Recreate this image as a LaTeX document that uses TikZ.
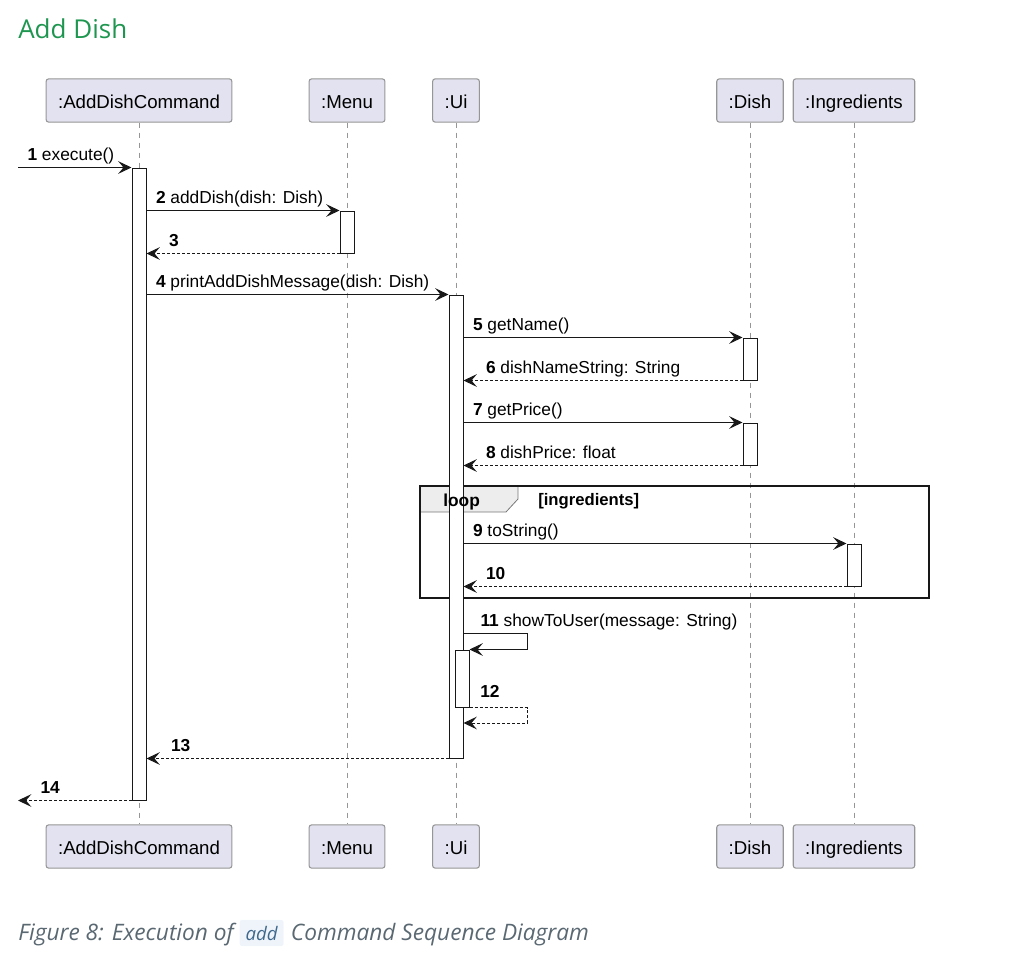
\documentclass[tikz,border=0pt]{standalone}
\usepackage{fontspec}
\setmainfont{Liberation Sans}
\newfontfamily\titlefont{Open Sans}
\usetikzlibrary{arrows.meta,fit}
\definecolor{partfill}{RGB}{226,226,240}
\definecolor{partline}{RGB}{150,150,150}
\definecolor{lineclr}{RGB}{24,24,24}
\definecolor{titlegreen}{RGB}{30,150,80}
\definecolor{capgray}{RGB}{90,104,114}
\definecolor{codeblue}{RGB}{62,104,140}
\definecolor{codebg}{RGB}{239,244,250}
\tikzset{
  part/.style={draw=partline, fill=partfill, rounded corners=2pt, line width=0.8pt,
    minimum height=32.5pt, inner xsep=9pt, text height=12.5pt, text depth=1pt,
    font=\fontsize{14}{16}\selectfont},
  life/.style={draw=partline, line width=0.75pt, dash pattern=on 3.75pt off 3.75pt},
  act/.style={draw=lineclr, fill=white, line width=0.75pt, inner sep=0pt},
  call/.style={draw=lineclr, line width=0.75pt, -{Stealth[length=10pt,width=9.5pt,inset=4pt]}},
  ret/.style={call, dash pattern=on 2.25pt off 1.5pt},
  lbl/.style={font=\fontsize{13}{15}\selectfont, inner sep=0pt, anchor=base west},
  calllbl/.style={lbl, pos=0, xshift=6.75pt, yshift=4.9pt},
  retlbl/.style={lbl, pos=1, xshift=16.5pt, yshift=4.9pt}
}
\begin{document}
\begin{tikzpicture}[x=0.75pt, y=-0.75pt]
  \useasboundingbox (0,0) rectangle (1014,964);

  % title
  \node[anchor=base west, inner sep=0pt, text=titlegreen, font=\titlefont\fontsize{19.5}{22}\selectfont]
    (title) at (18,38) {Add Dish};

  % participants
  \node[part] (cmdTop) at (139,100.5) {:AddDishCommand};
  \node[part] (menuTop) at (347,100.5) {:Menu};
  \node[part] (uiTop) at (456,100.5) {:Ui};
  \node[part] (dishTop) at (750,100.5) {:Dish};
  \node[part] (ingTop) at (854,100.5) {:Ingredients};
  \node[part] (cmdBot) at (139,846.5) {:AddDishCommand};
  \node[part] (menuBot) at (347,846.5) {:Menu};
  \node[part] (uiBot) at (456,846.5) {:Ui};
  \node[part] (dishBot) at (750,846.5) {:Dish};
  \node[part] (ingBot) at (854,846.5) {:Ingredients};

  % lifelines
  \foreach \p in {cmd,menu,ui,dish,ing}
    \draw[life] (\p Top) -- (\p Bot);

  % loop frame
  \draw[line width=0.6pt, draw=partline!80!black, fill=black!7]
    (420,486) -- (518,486) -- (518,499) -- (506,512) -- (420,512) -- cycle;
  \draw[line width=1.5pt, draw=lineclr] (420,486) rectangle (929,598);

  % activations
  \node[act, fit={(132,168) (146,800)}] (cmdA) {};
  \node[act, fit={(340,211) (354,253)}] (menuA) {};
  \node[act, fit={(449,295) (463,758)}] (uiA) {};
  \node[act, fit={(743,338) (757,380)}] (dishA) {};
  \node[act, fit={(743,423) (757,465)}] (dishB) {};
  \node[act, fit={(847,544) (861,586)}] (ingA) {};
  \node[act, fit={(455,650) (469,707)}] (uiB) {};

  \node[anchor=base west, inner sep=0pt, font=\bfseries\fontsize{13}{15}\selectfont] (loopTag) at (443,506) {loop};
  \node[anchor=base west, inner sep=0pt, font=\bfseries\fontsize{12.5}{14}\selectfont] (loopGuard) at (538,505) {[ingredients]};

  \coordinate (edge) at (18,0);
  \coordinate (selfOut) at (463,633);
  \coordinate (selfTurn) at (527,633);
  \coordinate (backTurn) at (527,723);

  % messages
  \draw[call] (edge |- cmdA.north) -- node[calllbl] {\textbf{1} execute()} (cmdA.north west);
  \draw[call] (cmdA.east |- menuA.north) -- node[calllbl] {\textbf{2} addDish(dish: Dish)} (menuA.north west);
  \draw[ret] (menuA.south west) -- node[retlbl] {\textbf{3}} (cmdA.east |- menuA.south);
  \draw[call] (cmdA.east |- uiA.north) -- node[calllbl] {\textbf{4} printAddDishMessage(dish: Dish)} (uiA.north west);
  \draw[call] (uiA.east |- dishA.north) -- node[calllbl] {\textbf{5} getName()} (dishA.north west);
  \draw[ret] (dishA.south west) -- node[retlbl] {\textbf{6} dishNameString: String} (uiA.east |- dishA.south);
  \draw[call] (uiA.east |- dishB.north) -- node[calllbl] {\textbf{7} getPrice()} (dishB.north west);
  \draw[ret] (dishB.south west) -- node[retlbl] {\textbf{8} dishPrice: float} (uiA.east |- dishB.south);
  \draw[call] (uiA.east |- ingA.north) -- node[calllbl] {\textbf{9} toString()} (ingA.north west);
  \draw[ret] (ingA.south west) -- node[retlbl] {\textbf{10}} (uiA.east |- ingA.south);
  \draw[call] (selfOut) -- node[lbl, pos=0, xshift=12.75pt, yshift=5.25pt] {\textbf{11} showToUser(message: String)}
    (selfTurn) |- (uiB.north east);
  \draw[ret] (uiB.south east) -- (uiB.south east -| backTurn) -- (backTurn) -- (uiA.east |- backTurn);
  \node[lbl] (n12) at (480,697) {\textbf{12}};
  \draw[ret] (uiA.south west) -- node[retlbl, xshift=1.5pt] {\textbf{13}} (cmdA.east |- uiA.south);
  \draw[ret] (cmdA.south west) -- node[retlbl] {\textbf{14}} (edge |- cmdA.south);

  % caption
  \node[anchor=base west, inner sep=0pt, text=capgray, font=\titlefont\itshape\fontsize{17}{20}\selectfont]
    (capA) at (18,940) {Figure 8: Execution of};
  \node[anchor=base west, inner sep=0pt, fill=codebg, rounded corners=2pt, inner xsep=4.5pt,
    inner ysep=4.5pt, text=codeblue, font=\titlefont\itshape\fontsize{14}{16}\selectfont]
    (capCode) at ([xshift=4pt]capA.base east) {add};
  \node[anchor=base west, inner sep=0pt, text=capgray, font=\titlefont\itshape\fontsize{17}{20}\selectfont]
    (capB) at ([xshift=5pt]capCode.base east) {Command Sequence Diagram};
\end{tikzpicture}
\end{document}
